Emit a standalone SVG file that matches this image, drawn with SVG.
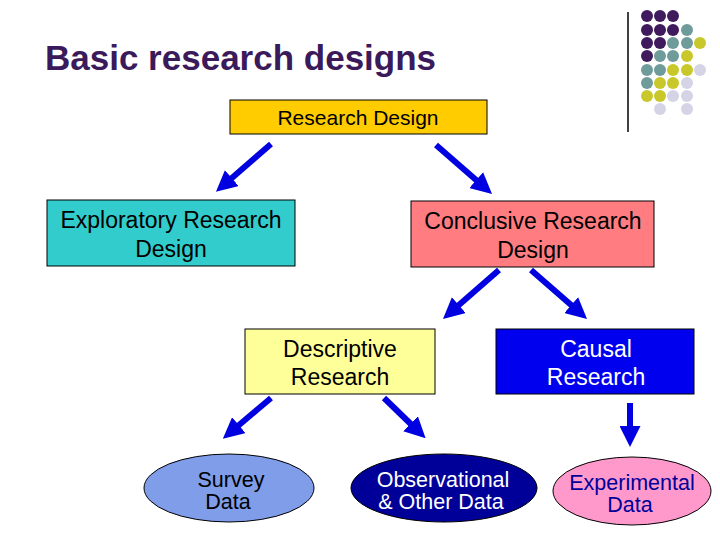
<svg xmlns="http://www.w3.org/2000/svg" width="720" height="540" viewBox="0 0 720 540">
<style>
text{font-family:"Liberation Sans",Arial,sans-serif;font-size:23px;text-anchor:middle}
.b{stroke:#000;stroke-width:1}
.a{stroke:#0000e0;stroke-width:6;fill:none;marker-end:url(#ah)}
.s{font-size:21.5px}
.p{fill:#3f1a5c}.t{fill:#6f9b9b}.y{fill:#c8c82a}.l{fill:#d4d4e6}
</style>
<defs><marker id="ah" markerWidth="3.5" markerHeight="3.5" refX="1.5" refY="1.75" orient="auto" markerUnits="strokeWidth"><path d="M0,0L3.5,1.75L0,3.5z" fill="#0000e0"/></marker></defs>
<rect width="720" height="540" fill="#fff"/>
<text x="45" y="70" style="font-size:35px;font-weight:bold;text-anchor:start;fill:#3a1a5a">Basic research designs</text>
<line x1="628" y1="12" x2="628" y2="132" stroke="#000" stroke-width="1.5"/>
<g>
<circle class="p" cx="647" cy="16" r="6"/><circle class="p" cx="660" cy="16" r="6"/><circle class="p" cx="673" cy="16" r="6"/>
<circle class="p" cx="647" cy="30" r="6"/><circle class="p" cx="660" cy="30" r="6"/><circle class="p" cx="673" cy="30" r="6"/><circle class="t" cx="687" cy="30" r="6"/>
<circle class="p" cx="647" cy="43" r="6"/><circle class="p" cx="660" cy="43" r="6"/><circle class="t" cx="673" cy="43" r="6"/><circle class="t" cx="687" cy="43" r="6"/><circle class="y" cx="700" cy="43" r="6"/>
<circle class="p" cx="647" cy="56" r="6"/><circle class="t" cx="660" cy="56" r="6"/><circle class="t" cx="673" cy="56" r="6"/><circle class="y" cx="687" cy="56" r="6"/>
<circle class="t" cx="647" cy="70" r="6"/><circle class="t" cx="660" cy="70" r="6"/><circle class="y" cx="673" cy="70" r="6"/><circle class="y" cx="687" cy="70" r="6"/><circle class="l" cx="700" cy="70" r="6"/>
<circle class="t" cx="647" cy="83" r="6"/><circle class="y" cx="660" cy="83" r="6"/><circle class="y" cx="673" cy="83" r="6"/><circle class="l" cx="687" cy="83" r="6"/>
<circle class="y" cx="647" cy="96" r="6"/><circle class="y" cx="660" cy="96" r="6"/><circle class="l" cx="673" cy="96" r="6"/><circle class="l" cx="687" cy="96" r="6"/>
<circle class="l" cx="660" cy="109" r="6"/><circle class="l" cx="687" cy="109" r="6"/>
</g>
<g id="connectors">
<line class="a" x1="271" y1="144" x2="225" y2="184"/>
<line class="a" x1="436" y1="145" x2="483" y2="186"/>
<line class="a" x1="499" y1="270" x2="452" y2="311"/>
<line class="a" x1="531" y1="270" x2="578" y2="311"/>
<line class="a" x1="271" y1="398" x2="232" y2="431"/>
<line class="a" x1="384" y1="398" x2="417" y2="430"/>
<line class="a" x1="630" y1="403" x2="630" y2="435"/>
</g>
<g id="rd"><rect class="b" x="230" y="100" width="257" height="34" fill="#ffcc00"/><text x="358" y="125" style="font-size:21px">Research Design</text></g>
<g id="exp"><rect class="b" x="47" y="200" width="248" height="66" fill="#33cccc"/><text x="171" y="228">Exploratory Research</text><text x="171" y="257">Design</text></g>
<g id="con"><rect class="b" x="411" y="201" width="243" height="66" fill="#ff7c80"/><text x="533" y="229">Conclusive Research</text><text x="533" y="258">Design</text></g>
<g id="desc"><rect class="b" x="245" y="329" width="190" height="65" fill="#ffff99"/><text x="340" y="357">Descriptive</text><text x="340" y="385">Research</text></g>
<g id="causal"><rect class="b" x="496" y="329" width="198" height="65" fill="#0000ee"/><text x="596" y="357" fill="#fff">Causal</text><text x="596" y="385" fill="#fff">Research</text></g>
<g id="survey"><ellipse class="b" cx="229" cy="488" rx="85" ry="34" fill="#7f9de8"/><text class="s" x="231" y="487">Survey</text><text class="s" x="228" y="509">Data</text></g>
<g id="obs"><ellipse class="b" cx="444" cy="488" rx="93" ry="34" fill="#000099"/><text class="s" x="443" y="487" fill="#fff">Observational</text><text class="s" x="441" y="509" fill="#fff">&amp; Other Data</text></g>
<g id="expd"><ellipse class="b" cx="632" cy="491" rx="79" ry="34" fill="#ff99cc"/><text class="s" x="632" y="490" fill="#000099">Experimental</text><text class="s" x="630" y="512" fill="#000099">Data</text></g>
</svg>
